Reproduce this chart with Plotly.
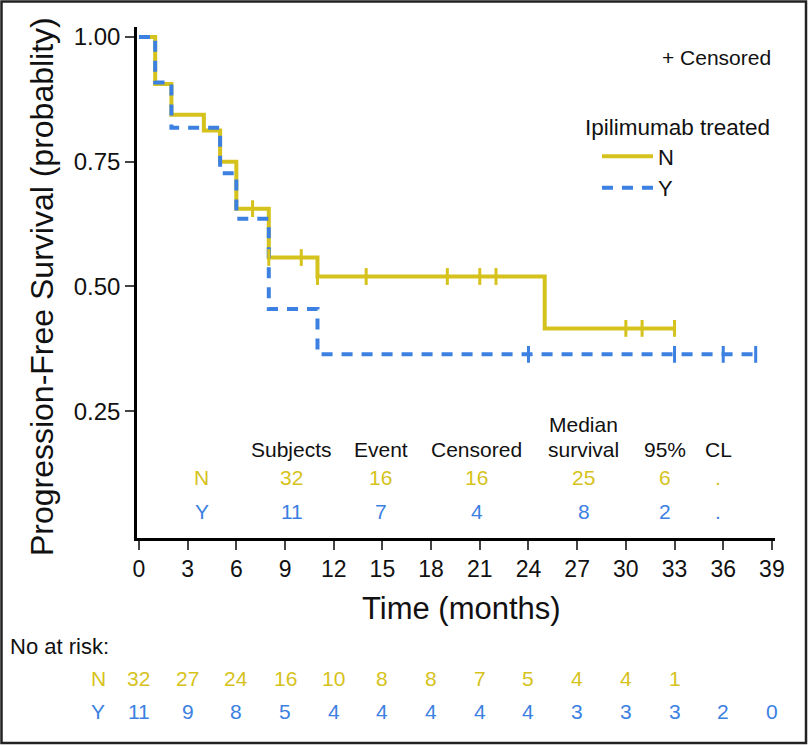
import plotly.graph_objects as go

# === Data ===
n_time = [0, 1, 2, 4, 5, 6, 8, 11, 25, 33]
n_surv = [1.0, 0.906, 0.844, 0.8125, 0.75, 0.656, 0.558, 0.52, 0.416, 0.416]
n_cens_time = [7, 8, 10, 11, 14, 19, 21, 22, 30, 31, 33]
n_cens_surv = [0.656, 0.558, 0.558, 0.52, 0.52, 0.52, 0.52, 0.52, 0.416, 0.416, 0.416]

y_time = [0, 1, 2, 5, 6, 8, 11, 38]
y_surv = [1.0, 0.909, 0.818, 0.727, 0.636, 0.455, 0.364, 0.364]
y_cens_time = [24, 33, 36, 38]
y_cens_surv = [0.364, 0.364, 0.364, 0.364]

table_cols = ["Subjects", "Event", "Censored", "survival", "95%", "CL"]
table_n = ["32", "16", "16", "25", "6", "."]
table_y = ["11", "7", "4", "8", "2", "."]

risk_times = [0, 3, 6, 9, 12, 15, 18, 21, 24, 27, 30, 33, 36, 39]
risk_n = [32, 27, 24, 16, 10, 8, 8, 7, 5, 4, 4, 1]
risk_y = [11, 9, 8, 5, 4, 4, 4, 4, 4, 3, 3, 3, 2, 0]

# === Style ===
YEL = "#D6C21C"
BLU = "#3C80E2"
TXT = "#111111"
FONT = "Liberation Sans, Arial, sans-serif"

fig = go.Figure()
fig.add_trace(go.Scatter(x=n_time, y=n_surv, mode="lines", line=dict(shape="hv", color=YEL, width=4),
                         name="N"))
fig.add_trace(go.Scatter(x=y_time, y=y_surv, mode="lines",
                         line=dict(shape="hv", color=BLU, width=4, dash="11px,9px"), name="Y"))
fig.add_trace(go.Scatter(x=n_cens_time, y=n_cens_surv, mode="markers", showlegend=False,
                         marker=dict(symbol="line-ns", size=12, line=dict(color=YEL, width=3))))
fig.add_trace(go.Scatter(x=y_cens_time, y=y_cens_surv, mode="markers", showlegend=False,
                         marker=dict(symbol="line-ns", size=12, line=dict(color=BLU, width=3))))


def txt(x, y, text, color=TXT, size=21, xref="x", yref="y", **kw):
    d = dict(x=x, y=y, xref=xref, yref=yref, text=text, showarrow=False,
             xanchor="center", yanchor="middle", font=dict(color=color, size=size))
    d.update(kw)
    return d


ann = []
# in-plot summary table
col_x = [9.4, 14.9, 20.8, 27.4, 32.4, 35.7]
for cx, head, vn, vy in zip(col_x, table_cols, table_n, table_y):
    ann.append(txt(cx, 0.174, head))
    ann.append(txt(cx, 0.118, vn, YEL))
    ann.append(txt(cx, 0.05, vy, BLU))
ann.append(txt(col_x[3], 0.224, "Median"))
ann.append(txt(3.88, 0.118, "N", YEL))
ann.append(txt(3.88, 0.05, "Y", BLU))

# number at risk
ann.append(txt(-0.2022, -0.2114, "No at risk:", size=22, xref="paper", yref="paper", xanchor="left"))
ann.append(txt(-0.0611, -0.274, "N", YEL, xref="paper", yref="paper"))
ann.append(txt(-0.0611, -0.3405, "Y", BLU, xref="paper", yref="paper"))
for t, v in zip(risk_times, risk_n):
    ann.append(txt(t, -0.274, str(v), YEL, yref="paper"))
for t, v in zip(risk_times, risk_y):
    ann.append(txt(t, -0.3405, str(v), BLU, yref="paper"))

# axis titles and censor note
ann.append(txt(-0.1489, 0.491, "Progression-Free Survival (probablity)", size=32,
               xref="paper", yref="paper", textangle=-90))
ann.append(txt(0.509, -0.137, "Time (months)", size=31, xref="paper", yref="paper"))
ann.append(txt(0.997, 0.941, "+ Censored", xref="paper", yref="paper", xanchor="right"))

fig.update_layout(
    width=808, height=745,
    margin=dict(l=137, r=33, t=27, b=207),
    paper_bgcolor="white", plot_bgcolor="white",
    font=dict(family=FONT, color=TXT),
    annotations=ann,
    legend=dict(x=0.699, y=0.845, xanchor="left", yanchor="top",
                title=dict(text="Ipilimumab treated", font=dict(size=22.5)),
                font=dict(size=22), itemwidth=51, indentation=14, bgcolor="rgba(0,0,0,0)"),
    shapes=[dict(type="rect", xref="paper", yref="paper", x0=-0.2124, x1=1.0486, y0=-0.4012, y1=1.0499,
                 line=dict(color="#222222", width=2.5))],
)
fig.update_xaxes(range=[-0.12, 39.19], tickvals=risk_times, ticks="outside", ticklen=9, tickwidth=2,
                 showline=True, linecolor="black", linewidth=2.5, showgrid=False, zeroline=False,
                 tickfont=dict(size=23, color=TXT))
fig.update_yaxes(range=[-0.004, 1.02], tickvals=[0.25, 0.5, 0.75, 1.0], tickformat=".2f", ticks="outside",
                 ticklen=9, tickwidth=2, showline=True, linecolor="black", linewidth=2.5, showgrid=False,
                 zeroline=False, tickfont=dict(size=24, color=TXT))

fig.write_html("out.html", config={"displayModeBar": False},
               post_script="document.body.style.margin='0px';")
